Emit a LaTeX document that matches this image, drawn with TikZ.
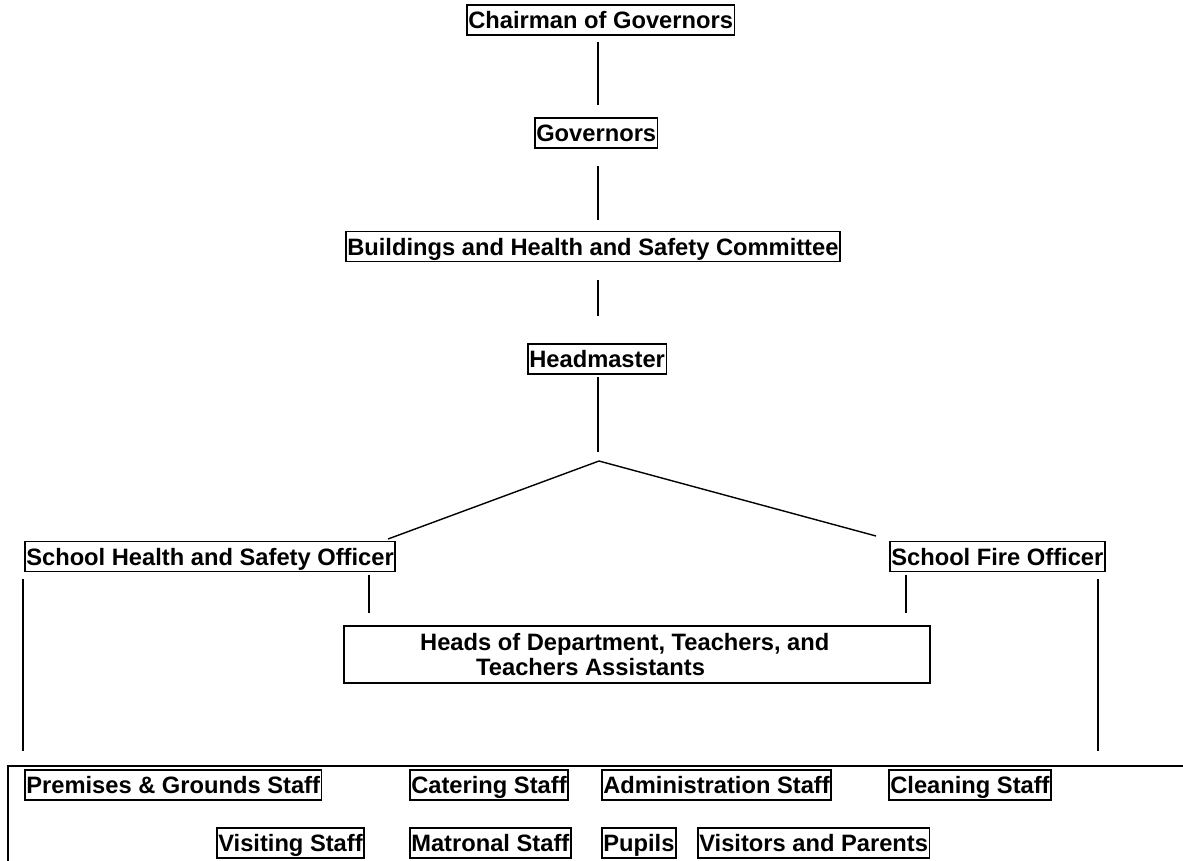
\documentclass[tikz,border=0pt]{standalone}
\usepackage{fontspec}
\setmainfont{Liberation Sans}
\begin{document}
\begin{tikzpicture}[x=1pt,y=-1pt,
  box/.style={draw,line width=1.6pt,anchor=west,inner xsep=1.5pt,inner ysep=6.5pt,
    text height=17pt,text depth=0pt,font=\fontsize{23.7}{28}\selectfont\bfseries},
  txt/.style={anchor=base west,inner sep=0pt,font=\fontsize{23.7}{28}\selectfont\bfseries},
  conn/.style={line width=1.4pt}]
\useasboundingbox (0,0) rectangle (1183,860);
% boxes
\node[box] (chair) at (466,20) {Chairman of Governors};
\node[box] (gov) at (534,133) {Governors};
\node[box] (bhs) at (345,246.5) {Buildings and Health and Safety Committee};
\node[box] (head) at (527,359) {Headmaster};
\node[box] (shso) at (24,556.5) {School Health and Safety Officer};
\node[box] (sfo) at (889,556.5) {School Fire Officer};
\node[draw,line width=1.6pt,minimum width=586pt,minimum height=57pt,inner sep=0pt] (heads) at (637,654.5) {};
\node[txt] (headsA) at (420,650) {Heads of Department, Teachers, and};
\node[txt] (headsB) at (476,675) {Teachers Assistants};
% bottom frame
\coordinate (fa) at (8,870);
\coordinate (fb) at (8,766);
\coordinate (fc) at (1190,766);
\draw[line width=1.6pt] (fa) -- (fb) -- (fc);
\node[box] (prem) at (24,785) {Premises \& Grounds Staff};
\node[box] (cat) at (409,785) {Catering Staff};
\node[box] (adm) at (601,785) {Administration Staff};
\node[box] (clean) at (888,785) {Cleaning Staff};
\node[box] (visit) at (216,843) {Visiting Staff};
\node[box] (mat) at (409,843) {Matronal Staff};
\node[box] (pup) at (601,843) {Pupils};
\node[box] (vis) at (697,843) {Visitors and Parents};
% connectors
\coordinate (c1a) at (598,42);  \coordinate (c1b) at (598,105);
\coordinate (c2a) at (598,166); \coordinate (c2b) at (598,220);
\coordinate (c3a) at (598,280); \coordinate (c3b) at (598,316);
\coordinate (c4a) at (598,377); \coordinate (c4b) at (598,452);
\coordinate (apex) at (599,461);
\coordinate (lend) at (388,539);
\coordinate (rend) at (876,536);
\coordinate (l1a) at (23,579);  \coordinate (l1b) at (23,751);
\coordinate (l2a) at (369,575); \coordinate (l2b) at (369,613);
\coordinate (l3a) at (906,575); \coordinate (l3b) at (906,613);
\coordinate (l4a) at (1098,579); \coordinate (l4b) at (1098,751);
\draw[conn] (c1a) -- (c1b);
\draw[conn] (c2a) -- (c2b);
\draw[conn] (c3a) -- (c3b);
\draw[conn] (c4a) -- (c4b);
\draw[conn] (lend) -- (apex) -- (rend);
\draw[conn] (l1a) -- (l1b);
\draw[conn] (l2a) -- (l2b);
\draw[conn] (l3a) -- (l3b);
\draw[conn] (l4a) -- (l4b);
\end{tikzpicture}
\end{document}
